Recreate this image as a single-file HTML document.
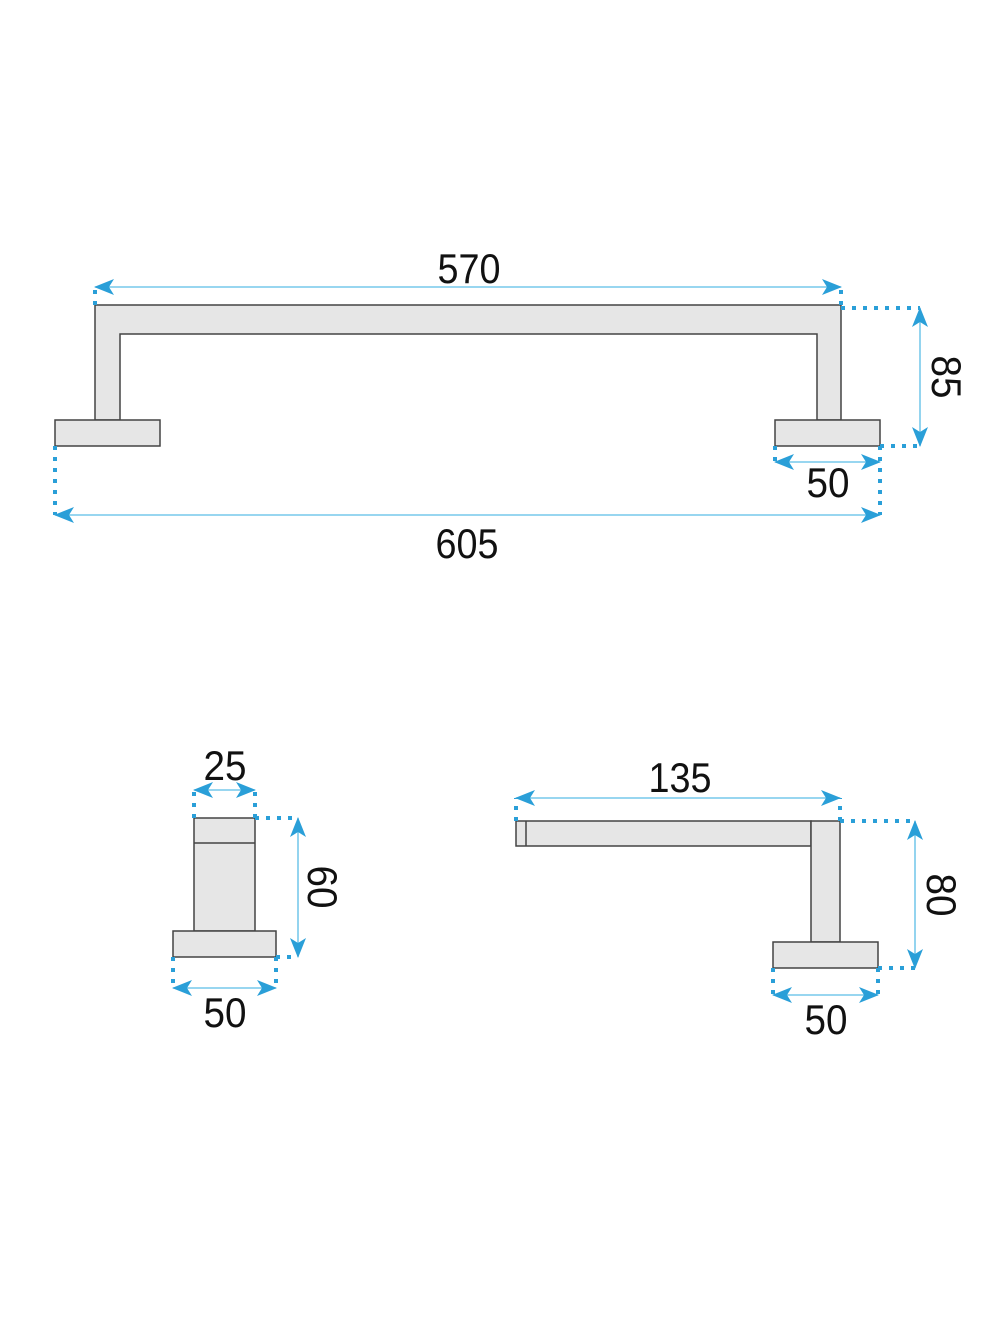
<!DOCTYPE html>
<html><head><style>html,body{margin:0;padding:0;background:#fff}</style></head>
<body>
<svg width="1000" height="1334" viewBox="0 0 1000 1334" xmlns="http://www.w3.org/2000/svg">
<defs>
<marker id="a" viewBox="0 0 20 16" refX="19" refY="8" markerWidth="20" markerHeight="16" markerUnits="userSpaceOnUse" orient="auto-start-reverse">
<path d="M0,0 L20,8 L0,16 L5,8 Z" fill="#2a9fd8"/>
</marker>
</defs>
<g fill="#e6e6e6" stroke="#444" stroke-width="1.5">
<path d="M95,305 H841 V420 H817 V334 H120 V420 H95 Z"/>
<rect x="55" y="420" width="105" height="26"/>
<rect x="775" y="420" width="105" height="26"/>
<rect x="194" y="818" width="61" height="113"/>
<line x1="194" y1="843" x2="255" y2="843"/>
<rect x="173" y="931" width="103" height="26"/>
<rect x="516" y="821" width="295" height="25"/>
<line x1="526" y1="821" x2="526" y2="846"/>
<rect x="811" y="821" width="29" height="121"/>
<rect x="773" y="942" width="105" height="26"/>
</g>
<g stroke="#2a9fd8" stroke-width="4" stroke-dasharray="4 7" fill="none">
<path d="M95,305 V287 M841,305 V287"/>
<path d="M841,308 H920 M880,446 H920"/>
<path d="M775,446 V462 M880,446 V515"/>
<path d="M55,446 V515"/>
<path d="M194,818 V790 M255,818 V790"/>
<path d="M255,818 H298 M276,957 H298"/>
<path d="M173,957 V988 M276,957 V988"/>
<path d="M516,821 V798 M840,821 V798"/>
<path d="M840,821 H915 M878,968 H915"/>
<path d="M773,968 V995 M878,968 V995"/>
</g>
<g stroke="#5bbde6" stroke-width="1.3" fill="none" marker-start="url(#a)" marker-end="url(#a)">
<line x1="95" y1="287" x2="841" y2="287"/>
<line x1="920" y1="308" x2="920" y2="446"/>
<line x1="775" y1="462" x2="880" y2="462"/>
<line x1="55" y1="515" x2="880" y2="515"/>
<line x1="194" y1="790" x2="255" y2="790"/>
<line x1="298" y1="818" x2="298" y2="957"/>
<line x1="173" y1="988" x2="276" y2="988"/>
<line x1="516" y1="798" x2="840" y2="798"/>
<line x1="915" y1="821" x2="915" y2="968"/>
<line x1="773" y1="995" x2="878" y2="995"/>
</g>
<g font-family="Liberation Sans, sans-serif" font-size="42" fill="#111" text-anchor="middle">
<text x="469" y="283" textLength="63" lengthAdjust="spacingAndGlyphs">570</text>
<text x="467" y="558" textLength="63" lengthAdjust="spacingAndGlyphs">605</text>
<text x="828" y="497" textLength="43" lengthAdjust="spacingAndGlyphs">50</text>
<text x="225" y="780" textLength="43" lengthAdjust="spacingAndGlyphs">25</text>
<text x="225" y="1027" textLength="43" lengthAdjust="spacingAndGlyphs">50</text>
<text x="680" y="792" textLength="63" lengthAdjust="spacingAndGlyphs">135</text>
<text x="826" y="1034" textLength="43" lengthAdjust="spacingAndGlyphs">50</text>
<text transform="translate(932,377) rotate(90)" textLength="43" lengthAdjust="spacingAndGlyphs">85</text>
<text transform="translate(308,887) rotate(90)" textLength="43" lengthAdjust="spacingAndGlyphs">60</text>
<text transform="translate(927,895) rotate(90)" textLength="43" lengthAdjust="spacingAndGlyphs">80</text>
</g>
</svg>
</body></html>
